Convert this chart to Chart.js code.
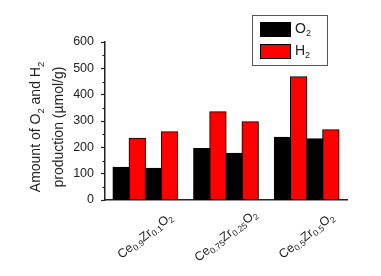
<!DOCTYPE html>
<html>
<head>
<meta charset="utf-8">
<script src="https://cdn.jsdelivr.net/npm/chart.js@4.4.1/dist/chart.umd.min.js"></script>
<style>
  body { margin: 0; background: #fff; }
  canvas { display: block; }
</style>
</head>
<body>
<canvas id="chart" width="381" height="276"></canvas>
<script>
// samples on the x axis (numbers after an element get subscripted)
const categories = ["Ce0.9Zr0.1O2", "Ce0.75Zr0.25O2", "Ce0.5Zr0.5O2"];

// two runs per sample, O2 and H2 each
const o2Run1 = [124, 195, 238];
const h2Run1 = [234, 335, 468];
const o2Run2 = [120, 177, 232];
const h2Run2 = [259, 297, 266];

const yTicks = [0, 100, 200, 300, 400, 500, 600];
const yMinor = [50, 150, 250, 350, 450, 550];
const yTitle = ["Amount of O2 and H2", "production (\u00b5mol/g)"];

const FONT = "'Liberation Sans', Arial, sans-serif";
const TEXT = "#222";

// "Ce0.9Zr0.1O2" -> Ce, 0.9(sub), Zr, 0.1(sub), O, 2(sub)
function splitFormula(s){
    return s.match(/\d[\d.]*|[^\d]+/g).map(p => ({t: p, sub: /^\d/.test(p)}));
}

function drawFormula(ctx, s, x, y, size, subSize, align){
    const parts = splitFormula(s);
    let w = 0;
    parts.forEach(p => {
        ctx.font = (p.sub ? subSize : size) + "px " + FONT;
        p.w = ctx.measureText(p.t).width;
        w += p.w;
    });
    let cx = align === "center" ? x - w / 2 : x;
    parts.forEach(p => {
        ctx.font = (p.sub ? subSize : size) + "px " + FONT;
        ctx.fillText(p.t, cx, p.sub ? y + size * 0.3 : y);
        cx += p.w;
    });
}

const extras = {
    id: "extras",
    afterDraw(chart){
        const ctx = chart.ctx;
        const xs = chart.scales.x;
        const ys = chart.scales.y;
        ctx.save();

        // minor ticks on the y axis
        ctx.strokeStyle = TEXT;
        ctx.lineWidth = 1.2;
        yMinor.forEach(v => {
            const py = Math.round(ys.getPixelForValue(v)) + 0.5;
            ctx.beginPath();
            ctx.moveTo(ys.right - 2.5, py);
            ctx.lineTo(ys.right, py);
            ctx.stroke();
        });

        ctx.fillStyle = TEXT;

        // y axis title, two lines
        ctx.textBaseline = "alphabetic";
        yTitle.forEach((line, k) => {
            ctx.save();
            ctx.translate(40 + k * 23, 127);
            ctx.rotate(-Math.PI / 2);
            drawFormula(ctx, line, 0, 0, 14, 9.5, "center");
            ctx.restore();
        });

        // rotated formula labels under each group
        ctx.textBaseline = "middle";
        categories.forEach((name, i) => {
            ctx.save();
            ctx.translate(xs.getPixelForValue(i), 236);
            ctx.rotate(-38 * Math.PI / 180);
            drawFormula(ctx, name, 0, 0, 12.5, 8.5, "center");
            ctx.restore();
        });

        // legend box in the top right
        const bx = 252, by = 15, bw = 75, bh = 50;
        ctx.strokeStyle = "#555";
        ctx.lineWidth = 1;
        ctx.strokeRect(bx + 0.5, by + 0.5, bw, bh);
        [0, 1].forEach(k => {
            const ds = chart.data.datasets[k];
            const sy = by + 7 + k * 22;
            ctx.fillStyle = ds.backgroundColor;
            ctx.fillRect(bx + 8, sy, 31, 15);
            ctx.strokeStyle = "#000";
            ctx.strokeRect(bx + 8.5, sy + 0.5, 30, 14);
            ctx.fillStyle = TEXT;
            drawFormula(ctx, ds.label, bx + 43, sy + 7.5, 14, 9, "left");
        });
        ctx.restore();
    }
};

function barSet(label, data, color){
    return {
        label: label,
        data: data,
        backgroundColor: color,
        borderColor: "#000",
        borderWidth: 1,
        borderSkipped: false,
        inflateAmount: 0.6,
        categoryPercentage: 0.8,
        barPercentage: 1.0
    };
}

new Chart(document.getElementById("chart"), {
    type: "bar",
    data: {
        labels: categories,
        datasets: [
            barSet("O2", o2Run1, "#000000"),
            barSet("H2", h2Run1, "#ff0000"),
            barSet("O2", o2Run2, "#000000"),
            barSet("H2", h2Run2, "#ff0000")
        ]
    },
    options: {
        responsive: false,
        animation: false,
        layout: { padding: { left: 0, top: 42, right: 34, bottom: 0 } },
        plugins: {
            legend: { display: false },
            tooltip: { enabled: false }
        },
        scales: {
            x: {
                afterFit: s => { s.height = 76; },
                grid: { display: false },
                border: { display: true, color: TEXT, width: 1.5 },
                ticks: { display: false }
            },
            y: {
                min: 0,
                max: 600,
                afterFit: s => { s.width = 105; },
                afterBuildTicks: s => { s.ticks = yTicks.map(v => ({value: v})); },
                grid: { display: true, drawOnChartArea: false, tickLength: 4, color: TEXT, tickWidth: 1.2 },
                border: { display: true, color: TEXT, width: 1.5 },
                ticks: { color: TEXT, padding: 7, font: { family: FONT, size: 12.5 } }
            }
        }
    },
    plugins: [extras]
});
</script>
</body>
</html>
